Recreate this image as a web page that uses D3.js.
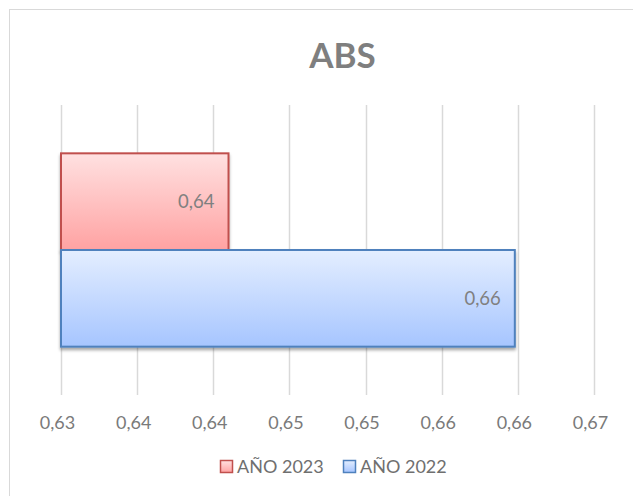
<!DOCTYPE html>
<html>
<head>
<meta charset="utf-8">
<script src="https://cdn.jsdelivr.net/npm/d3@7"></script>
<style>
  body { margin: 0; background: #ffffff; }
  svg { display: block; }
</style>
</head>
<body>
<div id="chart"></div>
<script>
  var categories = ["ABS"];
  var series_names = ["AÑO 2023", "AÑO 2022"];
  var values_2023 = [0.641];
  var values_2022 = [0.6598];
  var tick_values = [0.63, 0.635, 0.64, 0.645, 0.65, 0.655, 0.66, 0.665];
  var tick_labels = ["0,63", "0,64", "0,64", "0,65", "0,65", "0,66", "0,66", "0,67"];

  var series_colors = [
    {stroke: "#c0504d", top: "#ffe1e1", bottom: "#ffa2a2"},
    {stroke: "#4f81bd", top: "#e4eeff", bottom: "#a6c5ff"}
  ];

  var data = [];
  categories.forEach(function(c, i) {
    data.push({name: c, series: series_names[0], value: values_2023[i], idx: 0});
    data.push({name: c, series: series_names[1], value: values_2022[i], idx: 1});
  });

  var width = 633, height = 496;
  var font = "Lato, 'Open Sans', sans-serif";

  const svg = d3.select("#chart")
    .append("svg")
    .attr("width", width)
    .attr("height", height);

  var defs = svg.append("defs");
  series_colors.forEach(function(c, i) {
    var g = defs.append("linearGradient")
      .attr("id", "grad" + i)
      .attr("x1", 0).attr("y1", 0).attr("x2", 0).attr("y2", 1);
    g.append("stop").attr("offset", "0%").attr("stop-color", c.top);
    g.append("stop").attr("offset", "100%").attr("stop-color", c.bottom);
  });
  var shadow = defs.append("filter").attr("id", "shadow")
    .attr("x", "-10%").attr("y", "-10%").attr("width", "130%").attr("height", "140%");
  shadow.append("feDropShadow")
    .attr("dx", 0).attr("dy", 2.5).attr("stdDeviation", 1.8)
    .attr("flood-color", "#000").attr("flood-opacity", 0.35);

  // chart border
  svg.append("rect")
    .attr("x", 9.5).attr("y", 9.5)
    .attr("width", 700).attr("height", 600)
    .attr("fill", "none")
    .attr("stroke", "#d9d9d9");

  // title
  svg.append("text")
    .attr("x", 342.5)
    .attr("y", 67.5)
    .attr("text-anchor", "middle")
    .attr("font-family", font)
    .attr("font-weight", "bold")
    .attr("font-size", 35)
    .attr("fill", "#7f7f7f")
    .text("ABS");

  // x scale
  const x = d3.scaleLinear()
    .domain([0.63, 0.665])
    .range([61, 594]);

  // y scales
  const y = d3.scaleBand()
    .domain(categories)
    .range([105, 395])
    .paddingInner(0)
    .paddingOuter(0.25);

  const y_series = d3.scaleBand()
    .domain(series_names)
    .range([0, y.bandwidth()]);

  // gridlines
  svg.append("g")
    .selectAll("line")
    .data(tick_values)
    .join("line")
      .attr("x1", d => Math.round(x(d)) + 0.5)
      .attr("x2", d => Math.round(x(d)) + 0.5)
      .attr("y1", 105)
      .attr("y2", 395)
      .attr("stroke", "#d9d9d9")
      .attr("stroke-width", 1.5);

  // x axis labels
  const x_axis = svg.append("g")
    .attr("transform", "translate(0,395)")
    .call(d3.axisBottom(x)
      .tickValues(tick_values)
      .tickSize(0)
      .tickPadding(21)
      .tickFormat((d, i) => tick_labels[i]));
  x_axis.select(".domain").remove();
  x_axis.selectAll("text")
    .attr("dx", -4)
    .attr("font-family", font)
    .attr("font-size", 18)
    .attr("fill", "#7a7a7a");

  //Bars
  svg.append("g")
    .selectAll("rect")
    .data(data)
    .join("rect")
      .attr("x", x(0.63))
      .attr("y", d => y(d.name) + y_series(d.series))
      .attr("width", d => x(d.value) - x(0.63))
      .attr("height", y_series.bandwidth())
      .attr("fill", d => "url(#grad" + d.idx + ")")
      .attr("stroke", d => series_colors[d.idx].stroke)
      .attr("stroke-width", 2)
      .attr("filter", "url(#shadow)");

  //add value inside the end of the bars
  svg.append("g")
    .attr("font-family", font)
    .attr("font-size", 18.5)
    .attr("fill", "#808080")
    .selectAll("text")
    .data(data)
    .join("text")
      .attr("text-anchor", "end")
      .attr("x", d => x(d.value) - 14)
      .attr("y", d => y(d.name) + y_series(d.series) + y_series.bandwidth() / 2)
      .attr("dy", "0.35em")
      .text(d => d3.format(".2f")(d.value).replace(".", ","));

  // legend
  var legend_x = [220, 343];
  var legend = svg.append("g")
    .selectAll("g")
    .data(series_names)
    .join("g")
      .attr("transform", (d, i) => `translate(${legend_x[i]}, 460)`);
  legend.append("rect")
    .attr("x", 0.5).attr("y", 0.5)
    .attr("width", 12).attr("height", 12)
    .attr("fill", (d, i) => "url(#grad" + i + ")")
    .attr("stroke", (d, i) => series_colors[i].stroke)
    .attr("stroke-width", 1.5);
  legend.append("text")
    .attr("x", 17)
    .attr("y", 6.5)
    .attr("dy", "0.35em")
    .attr("font-family", font)
    .attr("font-size", 18)
    .attr("fill", "#6f6f6f")
    .text(d => d);
</script>
</body>
</html>
